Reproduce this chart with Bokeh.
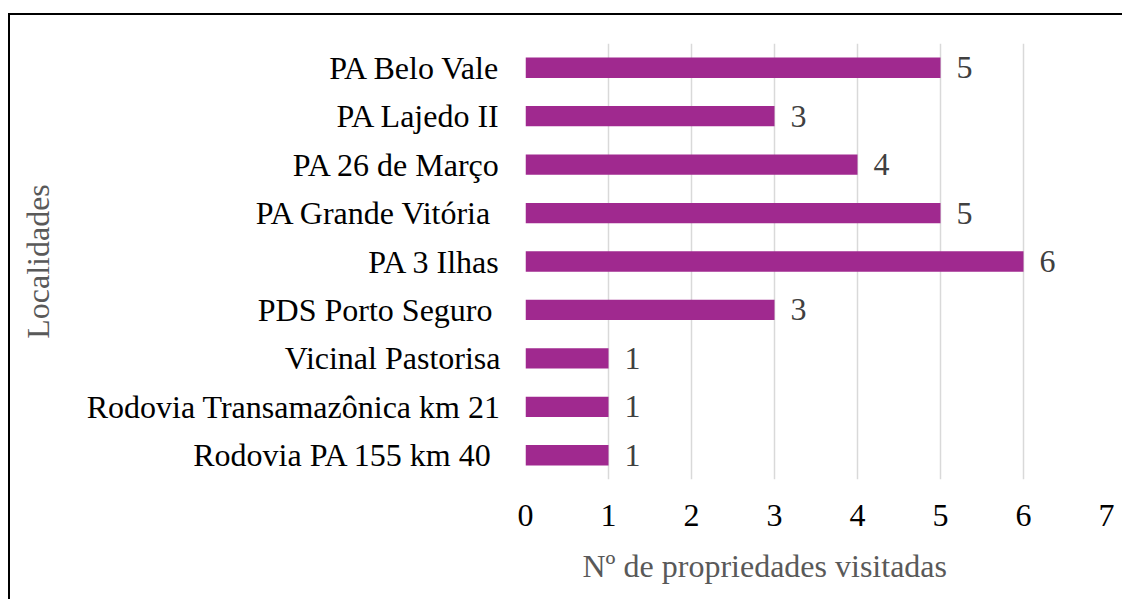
from bokeh.plotting import figure
from bokeh.models import FactorRange, FixedTicker, ColumnDataSource, Title
from bokeh.core.properties import value
from bokeh.embed import file_html
from bokeh.resources import INLINE

categories = ["PA Belo Vale", "PA Lajedo II", "PA 26 de Março", "PA Grande Vitória ",
              "PA 3 Ilhas", "PDS Porto Seguro ", "Vicinal Pastorisa",
              "Rodovia Transamazônica km 21", "Rodovia PA 155 km 40 "]
counts = [5, 3, 4, 5, 6, 3, 1, 1, 1]
x_ticks = [0, 1, 2, 3, 4, 5, 6, 7]
x_title = "Nº de propriedades visitadas"
y_title = "Localidades"

FONT = "Liberation Serif"
FS = "32px"

src = ColumnDataSource(dict(cat=categories, n=counts, lbl=[str(v) for v in counts]))

p = figure(width=1114, height=586, output_backend="svg", toolbar_location=None,
           y_range=FactorRange(factors=list(reversed(categories))),
           x_range=(0, 7), min_border_left=515, min_border_right=18,
           min_border_top=28, min_border_bottom=121)
p.styles = {"border-left": "2px solid black", "border-top": "2px solid black",
            "margin-top": "13px", "margin-left": "8px"}

p.hbar(y="cat", right="n", left=0, height=0.42, source=src,
       fill_color="#A0298F", line_color=None)
p.text(x="n", y="cat", text="lbl", source=src, x_offset=16,
       text_baseline="middle", text_align="left",
       text_font=value(FONT), text_font_size=FS, text_color="#404040")

p.outline_line_color = None
p.ygrid.grid_line_color = None
p.xgrid.grid_line_color = "#d9d9d9"
p.xgrid.grid_line_width = 1.5

p.xaxis.ticker = FixedTicker(ticks=x_ticks)
for ax in (p.xaxis[0], p.yaxis[0]):
    ax.axis_line_color = None
    ax.major_tick_line_color = None
    ax.minor_tick_line_color = None
    ax.major_label_text_font = FONT
    ax.major_label_text_font_size = FS
    ax.major_label_text_color = "black"
    ax.axis_label_text_font = FONT
    ax.axis_label_text_font_size = FS
    ax.axis_label_text_font_style = "normal"
    ax.axis_label_text_color = "#595959"

p.yaxis.axis_label = y_title
p.xaxis.major_label_standoff = 19
p.yaxis.major_label_standoff = 19
p.yaxis.axis_label_standoff = 28

xt = Title(text=x_title, align="left", offset=57, standoff=35,
           text_font=FONT, text_font_size=FS, text_font_style="normal",
           text_color="#595959")
p.add_layout(xt, "below")

open("out.html", "w").write(file_html(p, INLINE))
